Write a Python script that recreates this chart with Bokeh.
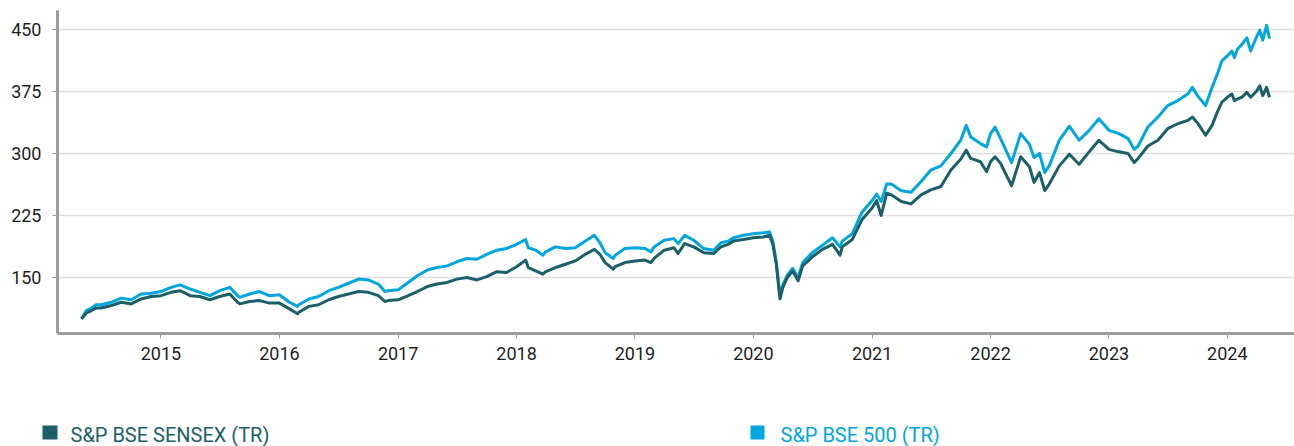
import pandas as pd
from bokeh.plotting import figure
from bokeh.models import Range1d, FixedTicker, DatetimeTickFormatter, ColumnDataSource
from bokeh.layouts import column
from bokeh.embed import file_html
from bokeh.resources import INLINE
from bokeh.core.properties import value

# ---------------- data ----------------
dates = [
    "2014-05-01", "2014-05-16", "2014-06-01", "2014-06-15", "2014-07-01", "2014-08-01",
    "2014-09-01", "2014-10-01", "2014-11-01", "2014-12-01",
    "2015-01-01", "2015-02-01", "2015-03-01", "2015-04-01", "2015-05-01", "2015-06-01",
    "2015-07-01", "2015-08-01", "2015-08-25", "2015-09-01", "2015-10-01", "2015-11-01", "2015-12-01",
    "2016-01-01", "2016-02-01", "2016-02-26", "2016-03-01", "2016-04-01", "2016-05-01", "2016-06-01",
    "2016-07-01", "2016-08-01", "2016-09-01", "2016-10-01", "2016-11-01", "2016-11-21", "2016-12-01",
    "2017-01-01", "2017-02-01", "2017-03-01", "2017-04-01", "2017-05-01", "2017-06-01",
    "2017-07-01", "2017-08-01", "2017-09-01", "2017-10-01", "2017-11-01", "2017-12-01",
    "2018-01-01", "2018-01-29", "2018-02-06", "2018-03-01", "2018-03-23", "2018-04-01", "2018-05-01",
    "2018-06-01", "2018-07-01", "2018-08-01", "2018-08-29", "2018-09-15", "2018-10-01", "2018-10-26",
    "2018-11-01", "2018-12-01",
    "2019-01-01", "2019-02-01", "2019-02-19", "2019-03-01", "2019-04-01", "2019-05-01", "2019-05-14",
    "2019-06-03", "2019-07-01", "2019-08-01", "2019-09-01", "2019-09-23", "2019-10-15", "2019-11-01",
    "2019-12-01",
    "2020-01-01", "2020-02-01", "2020-02-20", "2020-03-01", "2020-03-12", "2020-03-23", "2020-04-01",
    "2020-04-15", "2020-05-01", "2020-05-18", "2020-06-01", "2020-07-01", "2020-08-01", "2020-09-01",
    "2020-09-24", "2020-10-01", "2020-11-01", "2020-12-01",
    "2021-01-01", "2021-01-15", "2021-01-29", "2021-02-15", "2021-03-01", "2021-04-01", "2021-05-01",
    "2021-06-01", "2021-07-01", "2021-08-01", "2021-09-01", "2021-10-01", "2021-10-18", "2021-11-01",
    "2021-12-01", "2021-12-20",
    "2022-01-01", "2022-01-15", "2022-02-01", "2022-03-07", "2022-04-04", "2022-05-01", "2022-05-15",
    "2022-06-01", "2022-06-17", "2022-07-01", "2022-08-01", "2022-09-01", "2022-10-01", "2022-11-01",
    "2022-12-01",
    "2023-01-01", "2023-02-01", "2023-03-01", "2023-03-20", "2023-04-01", "2023-05-01", "2023-06-01",
    "2023-07-01", "2023-08-01", "2023-09-01", "2023-09-15", "2023-10-01", "2023-10-26", "2023-11-15",
    "2023-12-01", "2023-12-15",
    "2024-01-01", "2024-01-15", "2024-01-23", "2024-02-01", "2024-02-15", "2024-03-01", "2024-03-13",
    "2024-04-01", "2024-04-10", "2024-04-19", "2024-05-01", "2024-05-10",
]

sensex_tr = [
    100, 107, 110, 113, 113, 116, 120, 118, 124, 127,
    128, 132, 134, 128, 127, 123, 127, 130, 120, 118, 121, 122, 119,
    119, 112, 106, 108, 115, 117, 123, 127, 130, 133, 132, 128, 121, 122,
    123, 128, 133, 139, 142, 144, 148, 150, 147, 151, 157, 156,
    163, 171, 162, 158, 154, 157, 162, 166, 170, 178, 184, 178, 168, 160, 163, 168,
    170, 171, 168, 173, 183, 186, 179, 191, 187, 180, 179, 187, 190, 194, 196,
    198, 199, 201, 190, 165, 124, 138, 150, 158, 146, 164, 175, 184, 190, 177, 187, 196, 220,
    234, 243, 225, 252, 250, 242, 239, 250, 256, 260, 280, 293, 304, 294, 290, 278,
    290, 296, 288, 261, 296, 284, 265, 277, 255, 263, 285, 299, 287, 302, 316,
    305, 302, 300, 289, 294, 309, 316, 330, 336, 340, 344, 337, 322, 334, 350, 362,
    368, 372, 364, 366, 368, 374, 368, 376, 382, 370, 380, 368,
]

bse500_tr = [
    100, 110, 113, 117, 117, 120, 125, 123, 130, 131,
    133, 138, 141, 136, 132, 128, 134, 138, 128, 126, 130, 133, 128,
    129, 120, 115, 117, 124, 127, 134, 138, 143, 148, 147, 142, 133, 134,
    135, 144, 152, 159, 162, 164, 169, 173, 172, 178, 183, 185,
    190, 196, 186, 183, 177, 181, 187, 185, 186, 194, 201, 192, 180, 173, 177, 185,
    186, 185, 181, 187, 195, 197, 191, 201, 195, 185, 183, 192, 194, 198, 201,
    203, 204, 205, 194, 168, 127, 141, 153, 161, 150, 168, 180, 189, 198, 187, 194, 203, 229,
    243, 251, 242, 263, 263, 255, 253, 266, 280, 285, 300, 316, 334, 320, 312, 308,
    324, 332, 318, 289, 324, 311, 295, 300, 277, 285, 316, 333, 316, 328, 342,
    328, 324, 318, 305, 309, 332, 344, 358, 364, 372, 380, 370, 358, 380, 396, 412,
    418, 424, 416, 426, 432, 440, 424, 442, 449, 437, 455, 439,
]

series_names = ["S&P BSE SENSEX (TR)", "S&P BSE 500 (TR)"]
series_colors = ["#1b6068", "#00a6de"]
y_ticks = [150, 225, 300, 375, 450]
x_tick_years = [2015, 2016, 2017, 2018, 2019, 2020, 2021, 2022, 2023, 2024]

FONT = "Roboto"

# ---------------- main chart ----------------
src = ColumnDataSource(dict(date=pd.to_datetime(dates), sensex=sensex_tr, bse500=bse500_tr))

p = figure(
    width=1294, height=390, x_axis_type="datetime",
    output_backend="svg", toolbar_location=None,
    x_range=Range1d(pd.Timestamp("2014-02-16"), pd.Timestamp("2024-07-26")),
    y_range=Range1d(82.2, 473),
    min_border_left=57, min_border_right=0, min_border_top=10, min_border_bottom=57,
)
p.outline_line_color = None
p.background_fill_color = "white"
p.border_fill_color = "white"

p.line("date", "bse500", source=src, line_color=series_colors[1], line_width=3, line_join="round")
p.line("date", "sensex", source=src, line_color=series_colors[0], line_width=3, line_join="round")

p.xgrid.visible = False
p.ygrid.grid_line_color = "#dedede"
p.ygrid.grid_line_width = 1.6

p.yaxis.ticker = FixedTicker(ticks=y_ticks)
p.xaxis.ticker = FixedTicker(ticks=[pd.Timestamp(f"{y}-01-01").value // 10**6 for y in x_tick_years])
p.xaxis.formatter = DatetimeTickFormatter(years="%Y", months="%Y", days="%Y", hours="%Y",
                                          minutes="%Y", seconds="%Y", milliseconds="%Y",
                                          microseconds="%Y", minsec="%Y", hourmin="%Y")

for ax in (p.xaxis[0], p.yaxis[0]):
    ax.axis_line_color = "#9c9c9c"
    ax.axis_line_width = 3
    ax.major_tick_line_color = "#9c9c9c"
    ax.major_tick_line_width = 1
    ax.major_tick_out = 5
    ax.major_tick_in = 0
    ax.minor_tick_line_color = None
    ax.major_label_text_font = FONT
    ax.major_label_text_font_size = "18px"
    ax.major_label_text_color = "#1e1e1e"

p.yaxis.major_label_standoff = 11
p.xaxis.major_label_standoff = 8

# ---------------- legend strip (its frame is aligned with the chart's frame) ----------------
leg = figure(
    width=1294, height=56, output_backend="svg", toolbar_location=None,
    x_range=Range1d(57, 1294), y_range=Range1d(0, 56),
    x_axis_location=None,
    min_border_left=57, min_border_right=0, min_border_top=0, min_border_bottom=0,
)
leg.grid.visible = False
leg.outline_line_color = None
leg.background_fill_color = "white"
leg.border_fill_color = "white"

# first legend swatch: drawn as a single thick tick of the strip's left axis (left of the frame)
lax = leg.yaxis[0]
lax.ticker = FixedTicker(ticks=[14])
lax.axis_line_color = None
lax.minor_tick_line_color = None
lax.major_tick_in = 0
lax.major_tick_out = 15
lax.major_tick_line_width = 14
lax.major_tick_line_color = series_colors[0]
lax.major_label_text_font_size = "0px"
lax.major_label_text_color = None

# second legend swatch + both labels
leg.rect(x=[757], y=[14], width=14, height=14, fill_color=series_colors[1], line_color=None)
leg.text(x=[70, 780], y=[12, 12], text=series_names, text_color=series_colors,
         text_font=value(FONT), text_font_size="20px", text_baseline="middle",
         text_align="left")

layout = column(p, leg, spacing=0)
open("out.html", "w").write(file_html(layout, INLINE))
